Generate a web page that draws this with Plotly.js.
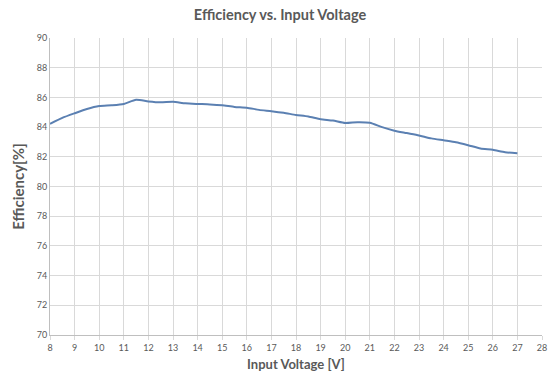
<!DOCTYPE html>
<html>
<head>
<meta charset="utf-8">
<script src="https://cdn.plot.ly/plotly-3.0.1.min.js"></script>
<style>html,body{margin:0;padding:0;background:#fff;}#chart{width:560px;height:385px;}</style>
</head>
<body>
<div id="chart"></div>
<script>
const inputVoltage = [8, 8.5, 9, 9.5, 10, 10.5, 11, 11.5, 12, 12.5, 13, 13.5, 14, 14.5, 15, 15.5, 16, 16.5, 17, 17.5, 18, 18.5, 19, 19.5, 20, 20.5, 21, 21.5, 22, 22.5, 23, 23.5, 24, 24.5, 25, 25.5, 26, 26.5, 27];
const efficiency = [84.22, 84.62, 84.93, 85.22, 85.42, 85.47, 85.56, 85.84, 85.73, 85.67, 85.71, 85.60, 85.56, 85.53, 85.47, 85.36, 85.31, 85.16, 85.07, 84.96, 84.82, 84.71, 84.53, 84.44, 84.27, 84.33, 84.29, 84.00, 83.76, 83.60, 83.44, 83.24, 83.11, 82.98, 82.78, 82.56, 82.47, 82.31, 82.24];
const xTicks = [8,9,10,11,12,13,14,15,16,17,18,19,20,21,22,23,24,25,26,27,28];
const yTicks = [70,72,74,76,78,80,82,84,86,88,90];

const font = "Lato, 'Open Sans', sans-serif";
Plotly.newPlot('chart', [{
  x: inputVoltage, y: efficiency, type: 'scatter', mode: 'lines',
  line: {color: '#5b80b2', width: 2, shape: 'spline', smoothing: 0.6},
  hoverinfo: 'skip'
}], {
  width: 560, height: 385,
  margin: {l: 50, r: 18, t: 38, b: 50},
  paper_bgcolor: '#fff', plot_bgcolor: '#fff',
  showlegend: false,
  title: {text: '<b>Efficiency vs. Input Voltage</b>', x: 0.5, xanchor: 'center', y: 0.962, yanchor: 'middle', font: {family: font, size: 14.5, color: '#595959'}},
  xaxis: {
    range: [8, 28], tickvals: xTicks, ticktext: xTicks.map(String),
    showgrid: true, gridcolor: '#d9d9d9', gridwidth: 1,
    showline: true, linecolor: '#bfbfbf', linewidth: 1,
    ticks: 'outside', ticklen: 4, tickcolor: '#d9d9d9',
    tickfont: {family: font, size: 9, color: '#595959'},
    zeroline: false,
    title: {text: '<b>Input Voltage [V]</b>', font: {family: font, size: 13, color: '#595959'}, standoff: 8}
  },
  yaxis: {
    range: [70, 90], tickvals: yTicks, ticktext: yTicks.map(String),
    showgrid: true, gridcolor: '#d9d9d9', gridwidth: 1,
    showline: true, linecolor: '#bfbfbf', linewidth: 1,
    ticks: '', ticklen: 0,
    tickfont: {family: font, size: 9, color: '#595959'},
    zeroline: false,
    title: {text: '<b>Efficiency[%]</b>', font: {family: font, size: 15, color: '#595959'}, standoff: 8}
  }
}, {staticPlot: true, displayModeBar: false});
</script>
</body>
</html>
